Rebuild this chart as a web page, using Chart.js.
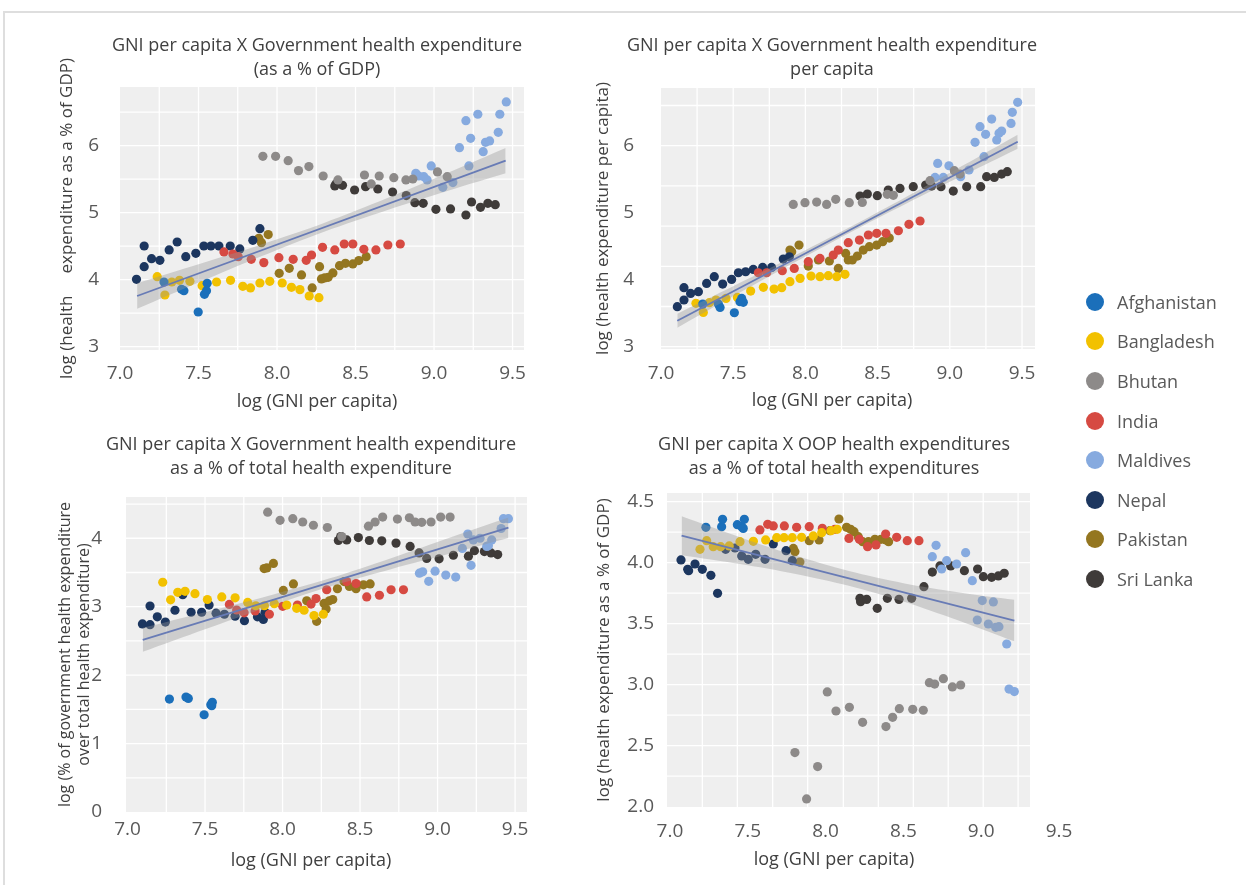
<!DOCTYPE html>
<html><head><meta charset="utf-8">
<script src="https://cdn.jsdelivr.net/npm/chart.js@4.4.1/dist/chart.umd.min.js"></script>
<style>
html,body{margin:0;padding:0;background:#fff;width:1246px;height:885px;overflow:hidden;font-family:'Open Sans',sans-serif;}
#frame{position:absolute;left:3px;top:11px;width:1300px;height:900px;border:2px solid #dedede;box-sizing:border-box;}
canvas{position:absolute;}
#legend{position:absolute;left:1086px;top:282px;}
.item{height:39.6px;display:flex;align-items:center;font-size:18px;color:#595959;white-space:nowrap;}
.dot{width:18px;height:18px;border-radius:50%;margin-right:13px;flex:none;}
</style></head><body>
<div id="frame"></div>
<canvas id="c1" width="634" height="417" style="left:0px;top:0px"></canvas>
<canvas id="c2" width="544" height="416" style="left:560px;top:0px"></canvas>
<canvas id="c3" width="622" height="466" style="left:0px;top:410px"></canvas>
<canvas id="c4" width="548" height="465" style="left:560px;top:410px"></canvas>
<div id="legend"></div>
<script>
// ---------- categories & tick labels ----------
const countries = ['Afghanistan','Bangladesh','Bhutan','India','Maldives','Nepal','Pakistan','Sri Lanka'];
const xTickValues = [7.0, 7.5, 8.0, 8.5, 9.0, 9.5];
const p1YTickValues = [3, 4, 5, 6];
const p2YTickValues = [3, 4, 5, 6];
const p3YTickValues = [0, 1, 2, 3, 4];
const p4YTickValues = [2.0, 2.5, 3.0, 3.5, 4.0, 4.5];

// ---------- Panel 1: Government health expenditure (% of GDP) ----------
const p1Afghanistan = [[7.280,3.965],[7.392,3.856],[7.407,3.836],[7.498,3.517],[7.538,3.781],[7.551,3.836],[7.555,3.945]];
const p1Bangladesh = [[7.237,4.045],[7.286,3.771],[7.330,3.965],[7.379,3.990],[7.445,3.975],[7.523,3.910],[7.615,3.965],[7.704,3.990],[7.782,3.900],[7.831,3.876],[7.891,3.950],[7.954,3.975],[8.033,3.950],[8.092,3.886],[8.146,3.851],[8.205,3.756],[8.267,3.731]];
const p1Bhutan = [[7.910,5.841],[7.991,5.841],[8.071,5.776],[8.137,5.627],[8.203,5.687],[8.294,5.547],[8.388,5.488],[8.557,5.562],[8.600,5.428],[8.651,5.547],[8.744,5.522],[8.821,5.488],[8.865,5.502],[9.022,5.607],[9.084,5.537]];
const p1India = [[7.662,4.413],[7.719,4.383],[7.753,4.343],[7.836,4.303],[7.916,4.254],[8.012,4.328],[8.103,4.303],[8.186,4.289],[8.220,4.368],[8.290,4.483],[8.368,4.443],[8.428,4.532],[8.483,4.532],[8.553,4.453],[8.630,4.443],[8.706,4.517],[8.785,4.532]];
const p1Maldives = [[8.884,5.587],[8.903,5.547],[8.935,5.537],[8.956,5.488],[8.982,5.697],[9.056,5.378],[9.120,5.448],[9.162,5.970],[9.203,6.373],[9.222,5.697],[9.233,6.109],[9.279,6.468],[9.313,5.910],[9.328,6.050],[9.354,6.070],[9.409,6.199],[9.419,6.468],[9.460,6.652]];
const p1Nepal = [[7.105,4.005],[7.154,4.194],[7.154,4.502],[7.201,4.313],[7.254,4.289],[7.313,4.443],[7.364,4.562],[7.419,4.343],[7.483,4.393],[7.534,4.502],[7.579,4.502],[7.630,4.502],[7.702,4.502],[7.763,4.458],[7.846,4.587],[7.891,4.761]];
const p1Pakistan = [[7.884,4.617],[7.901,4.552],[7.944,4.672],[8.014,4.095],[8.078,4.169],[8.156,4.070],[8.224,3.876],[8.271,4.194],[8.283,4.010],[8.303,4.025],[8.326,4.035],[8.356,4.100],[8.398,4.209],[8.436,4.244],[8.483,4.234],[8.521,4.284],[8.568,4.343]];
const p1SriLanka = [[8.368,5.398],[8.375,5.428],[8.417,5.408],[8.494,5.338],[8.564,5.388],[8.642,5.353],[8.736,5.308],[8.823,5.254],[8.878,5.149],[8.931,5.139],[9.012,5.050],[9.105,5.055],[9.203,4.965],[9.239,5.159],[9.296,5.080],[9.343,5.139],[9.390,5.119]];
const p1Fit = [[7.109,3.756],[9.456,5.776]];
const p1BandHi = [[7.109,3.946],[7.5,4.229],[7.9,4.525],[8.3,4.846],[8.7,5.213],[9.1,5.606],[9.456,5.966]];
const p1BandLo = [[7.109,3.566],[7.5,3.957],[7.9,4.349],[8.3,4.716],[8.7,5.037],[9.1,5.334],[9.456,5.586]];

// ---------- Panel 2: Government health expenditure per capita ----------
const p2Afghanistan = [[7.289,3.637],[7.397,3.637],[7.409,3.587],[7.508,3.507],[7.547,3.672],[7.559,3.721],[7.570,3.662]];
const p2Bangladesh = [[7.242,3.647],[7.293,3.512],[7.335,3.657],[7.381,3.697],[7.450,3.721],[7.529,3.736],[7.621,3.831],[7.709,3.886],[7.783,3.861],[7.836,3.881],[7.893,3.970],[7.963,4.020],[8.039,4.055],[8.101,4.045],[8.159,4.060],[8.217,4.045],[8.274,4.080]];
const p2Bhutan = [[7.916,5.124],[7.997,5.149],[8.078,5.159],[8.147,5.124],[8.210,5.199],[8.304,5.149],[8.394,5.154],[8.567,5.274],[8.609,5.259],[8.863,5.478],[9.031,5.627],[9.071,5.577]];
const p2India = [[7.674,4.104],[7.732,4.104],[7.840,4.134],[7.923,4.169],[8.020,4.269],[8.101,4.318],[8.193,4.368],[8.228,4.443],[8.297,4.552],[8.374,4.592],[8.436,4.667],[8.494,4.692],[8.558,4.692],[8.644,4.731],[8.717,4.826],[8.794,4.876]];
const p2Maldives = [[8.898,5.527],[8.916,5.736],[8.955,5.527],[8.994,5.701],[9.075,5.537],[9.133,5.637],[9.175,6.050],[9.209,6.284],[9.237,5.836],[9.248,6.169],[9.290,6.398],[9.325,6.085],[9.341,6.184],[9.359,6.219],[9.424,6.333],[9.433,6.498],[9.470,6.647]];
const p2Nepal = [[7.113,3.597],[7.159,3.697],[7.159,3.881],[7.205,3.796],[7.259,3.821],[7.316,3.945],[7.369,4.045],[7.427,3.935],[7.489,4.005],[7.536,4.104],[7.586,4.119],[7.639,4.154],[7.704,4.184],[7.766,4.184],[7.847,4.308],[7.889,4.343]];
const p2Pakistan = [[7.893,4.443],[7.905,4.418],[7.956,4.517],[8.020,4.204],[8.090,4.294],[8.166,4.279],[8.228,4.169],[8.279,4.393],[8.297,4.294],[8.325,4.294],[8.360,4.353],[8.401,4.443],[8.443,4.493],[8.494,4.517],[8.535,4.567],[8.581,4.622]];
const p2SriLanka = [[8.378,5.249],[8.429,5.279],[8.498,5.254],[8.574,5.338],[8.655,5.363],[8.747,5.388],[8.833,5.413],[8.874,5.398],[8.939,5.388],[9.024,5.323],[9.117,5.388],[9.214,5.388],[9.255,5.537],[9.308,5.527],[9.359,5.577],[9.398,5.612]];
const p2Fit = [[7.113,3.388],[9.470,6.060]];
const p2BandHi = [[7.113,3.493],[7.5,3.902],[7.9,4.330],[8.3,4.774],[8.7,5.237],[9.1,5.715],[9.470,6.165]];
const p2BandLo = [[7.113,3.283],[7.5,3.752],[7.9,4.230],[8.3,4.694],[8.7,5.137],[9.1,5.565],[9.470,5.955]];

// ---------- Panel 3: Government share of total health expenditure ----------
const p3Afghanistan = [[7.270,1.650],[7.377,1.680],[7.392,1.660],[7.494,1.421],[7.537,1.568],[7.547,1.603],[7.543,1.553]];
const p3Bangladesh = [[7.227,3.357],[7.278,3.100],[7.324,3.210],[7.371,3.224],[7.435,3.190],[7.515,3.105],[7.608,3.143],[7.694,3.129],[7.775,3.062],[7.827,3.014],[7.883,3.014],[7.947,3.043],[8.027,3.024],[8.091,2.976],[8.139,2.948],[8.203,2.871],[8.263,2.890]];
const p3Bhutan = [[7.904,4.381],[7.984,4.262],[8.066,4.286],[8.130,4.238],[8.199,4.190],[8.289,4.157],[8.382,4.024],[8.554,4.176],[8.597,4.238],[8.646,4.310],[8.741,4.281],[8.818,4.300],[8.855,4.238],[8.898,4.233],[8.958,4.238],[9.020,4.310],[9.081,4.310]];
const p3India = [[7.657,3.033],[7.704,2.952],[7.752,2.910],[7.823,2.938],[7.915,2.890],[8.001,3.005],[8.096,3.024],[8.184,3.038],[8.216,3.119],[8.285,3.248],[8.414,3.367],[8.474,3.338],[8.543,3.143],[8.625,3.167],[8.700,3.248],[8.780,3.248]];
const p3Maldives = [[8.883,3.490],[8.904,3.510],[8.943,3.371],[8.984,3.519],[9.053,3.462],[9.117,3.433],[9.160,3.852],[9.195,4.062],[9.216,3.605],[9.231,3.976],[9.274,4.000],[9.317,3.881],[9.328,3.890],[9.349,3.976],[9.410,4.143],[9.425,4.286],[9.457,4.286]];
const p3Nepal = [[7.096,2.748],[7.145,2.738],[7.145,3.010],[7.192,2.852],[7.244,2.776],[7.306,2.948],[7.356,3.176],[7.410,2.919],[7.478,2.919],[7.526,3.024],[7.571,2.905],[7.625,2.890],[7.694,2.862],[7.754,2.795],[7.838,2.852],[7.876,2.814],[7.887,2.919]];
const p3Pakistan = [[7.881,3.557],[7.898,3.567],[7.941,3.633],[8.005,3.238],[8.070,3.333],[8.156,3.086],[8.220,2.786],[8.268,3.048],[8.281,2.967],[8.302,3.086],[8.324,3.105],[8.354,3.262],[8.397,3.367],[8.431,3.295],[8.474,3.262],[8.522,3.319],[8.565,3.333]];
const p3SriLanka = [[8.360,3.967],[8.375,4.024],[8.414,3.976],[8.489,4.010],[8.560,3.967],[8.640,3.962],[8.732,3.929],[8.823,3.881],[8.881,3.786],[8.930,3.705],[9.010,3.700],[9.102,3.752],[9.199,3.738],[9.238,3.819],[9.302,3.805],[9.345,3.786],[9.388,3.762]];
const p3Fit = [[7.098,2.516],[9.457,4.155]];
const p3BandHi = [[7.098,2.691],[7.5,2.920],[7.9,3.153],[8.3,3.411],[8.7,3.709],[9.1,4.027],[9.457,4.305]];
const p3BandLo = [[7.098,2.341],[7.5,2.670],[7.9,2.993],[8.3,3.291],[8.7,3.549],[9.1,3.787],[9.457,4.005]];

// ---------- Panel 4: OOP share of total health expenditure ----------
const p4Afghanistan = [[7.231,4.290],[7.332,4.295],[7.338,4.355],[7.433,4.311],[7.461,4.295],[7.471,4.281],[7.478,4.355]];
const p4Bangladesh = [[7.193,4.109],[7.236,4.180],[7.278,4.131],[7.326,4.131],[7.381,4.137],[7.450,4.172],[7.536,4.175],[7.615,4.186],[7.686,4.205],[7.733,4.205],[7.786,4.205],[7.846,4.208],[7.921,4.219],[7.975,4.246],[8.035,4.262],[8.075,4.273]];
const p4Bhutan = [[7.803,2.443],[7.878,2.063],[7.949,2.328],[8.011,2.940],[8.067,2.784],[8.153,2.814],[8.238,2.691],[8.388,2.656],[8.431,2.732],[8.474,2.803],[8.560,2.798],[8.628,2.790],[8.667,3.016],[8.701,3.005],[8.757,3.049],[8.815,2.981],[8.868,2.997]];
const p4India = [[7.578,4.268],[7.628,4.314],[7.664,4.301],[7.735,4.301],[7.814,4.290],[7.895,4.295],[7.979,4.281],[8.060,4.273],[8.150,4.199],[8.217,4.191],[8.270,4.131],[8.324,4.145],[8.386,4.235],[8.457,4.208],[8.525,4.180],[8.600,4.180]];
const p4Maldives = [[8.686,4.049],[8.710,4.142],[8.746,3.948],[8.778,4.016],[8.842,3.989],[8.900,4.082],[8.943,3.852],[8.975,3.530],[9.007,3.689],[9.046,3.497],[9.078,3.678],[9.093,3.470],[9.114,3.475],[9.164,3.333],[9.179,2.964],[9.213,2.943]];
const p4Nepal = [[7.071,4.022],[7.114,3.945],[7.120,3.934],[7.161,3.989],[7.208,3.945],[7.263,3.896],[7.306,3.749],[7.358,4.109],[7.418,4.120],[7.461,4.055],[7.503,4.027],[7.551,4.068],[7.611,4.027],[7.664,4.153],[7.746,4.098],[7.786,4.016]];
const p4Pakistan = [[7.793,4.117],[7.803,4.090],[7.835,4.005],[7.895,4.180],[7.958,4.186],[8.028,4.262],[8.086,4.358],[8.135,4.290],[8.161,4.273],[8.183,4.254],[8.210,4.213],[8.238,4.172],[8.275,4.172],[8.317,4.191],[8.356,4.191],[8.388,4.186],[8.405,4.172]];
const p4SriLanka = [[8.221,3.708],[8.225,3.680],[8.264,3.699],[8.332,3.626],[8.397,3.708],[8.472,3.699],[8.553,3.708],[8.632,3.803],[8.686,3.923],[8.735,3.973],[8.804,3.973],[8.892,3.934],[8.977,3.948],[9.014,3.885],[9.067,3.880],[9.110,3.891],[9.148,3.913]];
const p4Fit = [[7.075,4.221],[9.213,3.525]];
const p4BandHi = [[7.075,4.381],[7.45,4.209],[7.8,4.060],[8.15,3.931],[8.5,3.832],[8.85,3.758],[9.213,3.695]];
const p4BandLo = [[7.075,4.061],[7.45,3.989],[7.8,3.910],[8.15,3.811],[8.5,3.682],[8.85,3.528],[9.213,3.355]];

// ---------- styles (kept apart from data) ----------
const palette = {'Afghanistan':'#1b6fba','Bangladesh':'#f2c100','Bhutan':'#8d8a89','India':'#d64a42','Maldives':'#86aadf','Nepal':'#1c365f','Pakistan':'#947620','Sri Lanka':'#3f3b39'};
const PANEL_BG = '#efefef';
const gridXStd = [7.25,7.5,7.75,8.0,8.25,8.5,8.75,9.0,9.25,9.5];
const gridX4 = [7.208,7.433,7.660,7.885,8.114,8.339,8.564,8.788,9.013,9.237];

Chart.defaults.font.family = "'Open Sans', sans-serif";
Chart.defaults.color = '#595959';

function toXY(a){ return a.map(p => ({x:p[0], y:p[1]})); }

function bgPlugin(cfg){
  return { id:'panelBg', beforeDraw(chart){
    const ctx = chart.ctx, xs = chart.scales.x, ys = chart.scales.y;
    const l = xs.getPixelForValue(cfg.bgX[0]), r = xs.getPixelForValue(cfg.bgX[1]);
    const t = ys.getPixelForValue(cfg.bgY[1]), b = ys.getPixelForValue(cfg.bgY[0]);
    ctx.save();
    ctx.fillStyle = PANEL_BG; ctx.fillRect(l, t, r - l, b - t);
    ctx.strokeStyle = '#ffffff'; ctx.lineWidth = 1.3;
    cfg.gridX.forEach(v => { const p = xs.getPixelForValue(v); ctx.beginPath(); ctx.moveTo(p, t); ctx.lineTo(p, b); ctx.stroke(); });
    cfg.gridY.forEach(v => { const p = ys.getPixelForValue(v); ctx.beginPath(); ctx.moveTo(l, p); ctx.lineTo(r, p); ctx.stroke(); });
    ctx.restore();
  }};
}

function makePanel(cfg){
  const datasets = [
    {type:'line', data:toXY(cfg.hi), borderWidth:0, pointRadius:0, fill:'+1', backgroundColor:'rgba(150,150,150,0.38)', tension:0.3, xAxisID:'x', yAxisID:'y'},
    {type:'line', data:toXY(cfg.lo), borderWidth:0, pointRadius:0, fill:false, tension:0.3, xAxisID:'x', yAxisID:'y'},
    {type:'line', data:toXY(cfg.fit), borderColor:'#4c6bc9', borderWidth:1.8, pointRadius:0, fill:false, xAxisID:'x', yAxisID:'y'}
  ];
  countries.forEach(c => {
    datasets.push({type:'scatter', label:c, data:toXY(cfg.series[c]), backgroundColor:palette[c], borderWidth:0, pointRadius:4.6, pointHoverRadius:4.6, xAxisID:'x', yAxisID:'y'});
  });
  new Chart(document.getElementById(cfg.id), {
    type:'scatter',
    data:{datasets},
    plugins:[bgPlugin(cfg)],
    options:{
      responsive:false, animation:false, devicePixelRatio:1,
      layout:{padding:0},
      plugins:{
        legend:{display:false}, tooltip:{enabled:false},
        title:{display:true, text:cfg.title, color:'#404040', font:{size:18, weight:'normal', lineHeight:'24px'}, padding:cfg.titlePad},
        subtitle:{display:true, position:'bottom', text:'log (GNI per capita)', color:'#404040', font:{size:18, weight:'normal', lineHeight:'22px'}, padding:{top:6, bottom:4}}
      },
      scales:{
        x:{type:'linear', position:'bottom', min:cfg.xMin, max:cfg.xMax,
           grid:{display:false}, border:{display:false},
           ticks:{padding:cfg.xTickPad, autoSkip:false, maxRotation:0, color:'#595959', font:{size:19, lineHeight:'22.8px'}, callback:v => Number(v).toFixed(1)},
           afterBuildTicks:s => { s.ticks = xTickValues.map(v => ({value:v})); },
           afterFit:s => { s.height = cfg.xAxisH; }},
        y:{type:'linear', position:'left', min:cfg.yMin, max:cfg.yMax,
           grid:{display:false}, border:{display:false},
           ticks:{padding:cfg.yTickPad, autoSkip:false, color:'#595959', font:{size:19}, callback:v => cfg.yFmt ? Number(v).toFixed(1) : String(Math.round(v))},
           afterBuildTicks:s => { s.ticks = cfg.yTicks.map(v => ({value:v})); },
           title:{display:true, text:cfg.yTitle, color:'#404040', font:{size:cfg.yTitleSize, lineHeight:cfg.yTitleLH + 'px'}, padding:{top:cfg.yTitlePad, bottom:0}},
           afterFit:s => { s.width = cfg.yAxisW; }},
        yr:{type:'linear', position:'right', display:true, grid:{display:false}, border:{display:false}, ticks:{display:false},
           afterFit:s => { s.width = cfg.rightW; }}
      }
    }
  });
}

makePanel({
  id:'c1', title:['GNI per capita X Government health expenditure','(as a % of GDP)'], titlePad:{top:34, bottom:5},
  yTitle:'log (health     expenditure as a % of GDP)', yTitleSize:17, yTitleLH:20.4,
  series:{'Afghanistan':p1Afghanistan,'Bangladesh':p1Bangladesh,'Bhutan':p1Bhutan,'India':p1India,'Maldives':p1Maldives,'Nepal':p1Nepal,'Pakistan':p1Pakistan,'Sri Lanka':p1SriLanka},
  fit:p1Fit, hi:p1BandHi, lo:p1BandLo,
  xMin:7.0, xMax:9.573, yMin:2.95, yMax:6.875, yTicks:p1YTickValues, yFmt:false,
  bgX:[7.0,9.573], bgY:[2.95,6.875], gridX:gridXStd, gridY:[3,3.5,4,4.5,5,5.5,6,6.5],
  xTickPad:4, xAxisH:35, yTickPad:13, yAxisW:120, yTitlePad:57.3, rightW:110
});
makePanel({
  id:'c2', title:['GNI per capita X Government health expenditure','per capita'], titlePad:{top:34, bottom:6},
  yTitle:'log (health expenditure per capita)', yTitleSize:17, yTitleLH:20.4,
  series:{'Afghanistan':p2Afghanistan,'Bangladesh':p2Bangladesh,'Bhutan':p2Bhutan,'India':p2India,'Maldives':p2Maldives,'Nepal':p2Nepal,'Pakistan':p2Pakistan,'Sri Lanka':p2SriLanka},
  fit:p2Fit, hi:p2BandHi, lo:p2BandLo,
  xMin:7.0, xMax:9.59, yMin:2.966, yMax:6.861, yTicks:p2YTickValues, yFmt:false,
  bgX:[7.0,9.59], bgY:[2.966,6.861], gridX:gridXStd, gridY:[3.0,3.6,4.2,4.8,5.4,6.0,6.6],
  xTickPad:5, xAxisH:35, yTickPad:19, yAxisW:101, yTitlePad:32.8, rightW:69
});
makePanel({
  id:'c3', title:['GNI per capita X Government health expenditure','as a % of total health expenditure'], titlePad:{top:23, bottom:16},
  yTitle:['log (% of government health expenditure','over total health expenditure)'], yTitleSize:16, yTitleLH:19,
  series:{'Afghanistan':p3Afghanistan,'Bangladesh':p3Bangladesh,'Bhutan':p3Bhutan,'India':p3India,'Maldives':p3Maldives,'Nepal':p3Nepal,'Pakistan':p3Pakistan,'Sri Lanka':p3SriLanka},
  fit:p3Fit, hi:p3BandHi, lo:p3BandLo,
  xMin:6.99, xMax:9.577, yMin:0, yMax:4.603, yTicks:p3YTickValues, yFmt:false,
  bgX:[6.99,9.577], bgY:[0,4.603], gridX:gridXStd, gridY:[0.5,1,1.5,2,2.5,3,3.5,4,4.5],
  xTickPad:-2, xAxisH:32, yTickPad:16, yAxisW:126, yTitlePad:55.5, rightW:95
});
makePanel({
  id:'c4', title:['GNI per capita X OOP health expenditures','as a % of total health expenditures'], titlePad:{top:23, bottom:12},
  yTitle:'log (health expenditure as a % of GDP)', yTitleSize:17, yTitleLH:20.4,
  series:{'Afghanistan':p4Afghanistan,'Bangladesh':p4Bangladesh,'Bhutan':p4Bhutan,'India':p4India,'Maldives':p4Maldives,'Nepal':p4Nepal,'Pakistan':p4Pakistan,'Sri Lanka':p4SriLanka},
  fit:p4Fit, hi:p4BandHi, lo:p4BandLo,
  xMin:6.981, xMax:9.5, yMin:1.997, yMax:4.571, yTicks:p4YTickValues, yFmt:true,
  bgX:[6.981,9.314], bgY:[1.997,4.571], gridX:gridX4, gridY:[2.25,2.5,2.75,3,3.25,3.5,3.75,4,4.25,4.5],
  xTickPad:5, xAxisH:36, yTickPad:5, yAxisW:107, yTitlePad:33.8, rightW:49
});

// shared legend
const lg = document.getElementById('legend');
countries.forEach(c => {
  const it = document.createElement('div'); it.className = 'item';
  const d = document.createElement('span'); d.className = 'dot'; d.style.background = palette[c];
  const t = document.createElement('span'); t.textContent = c;
  it.appendChild(d); it.appendChild(t); lg.appendChild(it);
});
</script>
</body></html>
